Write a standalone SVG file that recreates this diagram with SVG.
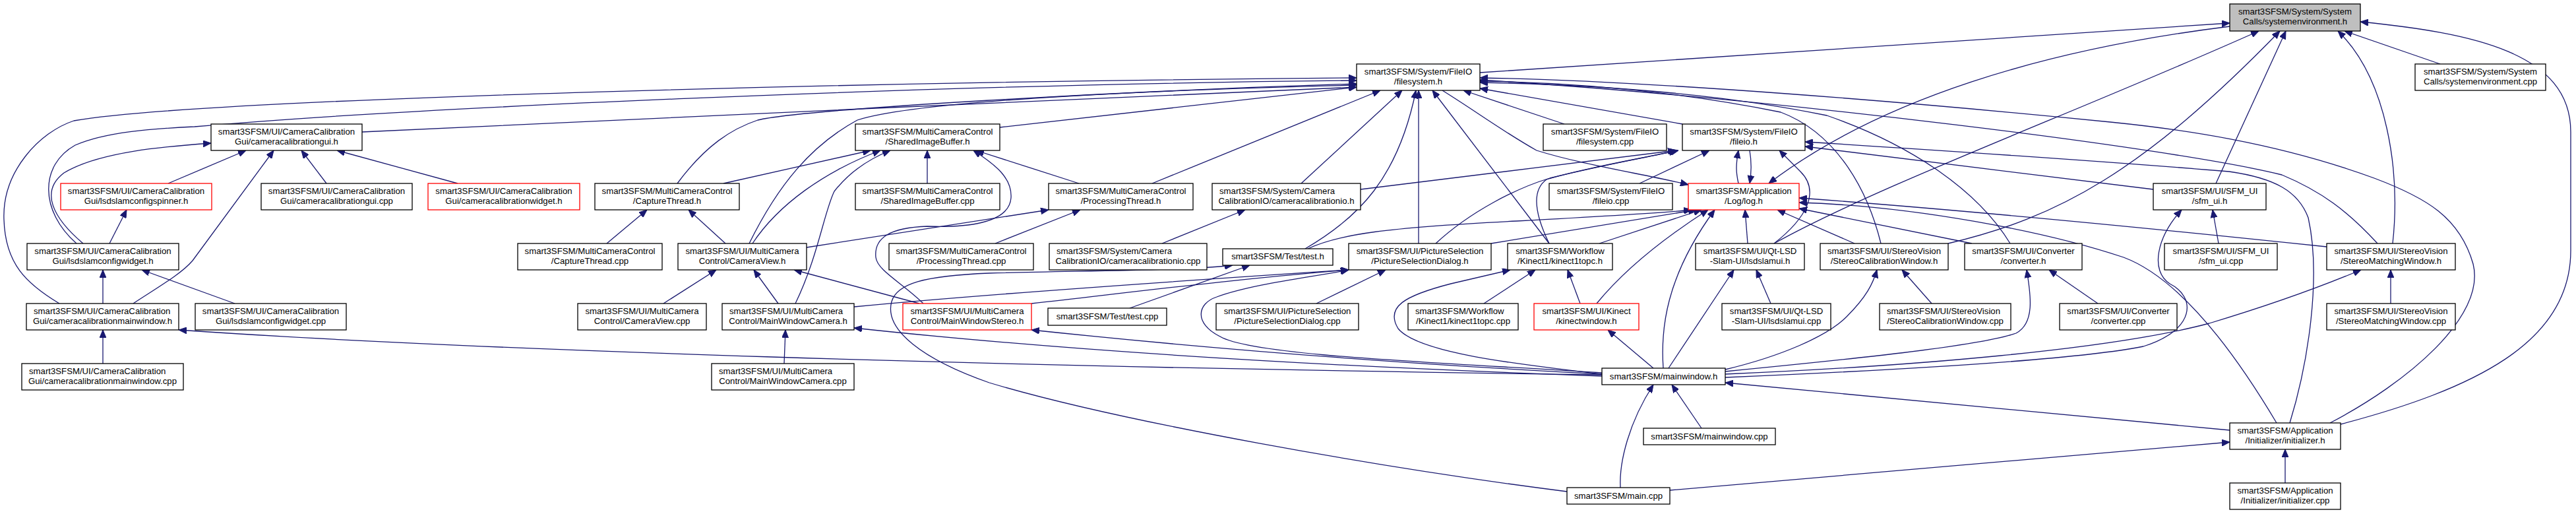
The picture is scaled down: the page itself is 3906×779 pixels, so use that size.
<svg xmlns="http://www.w3.org/2000/svg" width="3906" height="779" viewBox="0 0 3906 779">
<style>
.n rect{fill:#fff;stroke:#000;stroke-width:1.3}
.n.r rect{stroke:#ff0000}
.n.g rect{fill:#bfbfbf}
text{font-family:"Liberation Sans",Arial,sans-serif;font-size:13.2px;fill:#000}
.c{text-anchor:middle}
.l{text-anchor:start}
#edges path{fill:none;stroke:#191970;stroke-width:1.3;marker-end:url(#ah)}
</style>
<defs>
<marker id="ah" viewBox="0 0 12 10" refX="12" refY="5" markerWidth="12" markerHeight="10" markerUnits="userSpaceOnUse" orient="auto">
<path d="M0,0 L12,5 L0,10 z" fill="#191970" stroke="#191970" stroke-width="1"/>
</marker>
</defs>
<rect width="3906" height="779" fill="#fff"/>
<g id="edges">
<path d="M2244,110 C2700,80 3100,55 3381,35"/>
<path d="M3381,40 C3100,75 2850,150 2682,278"/>
<path d="M2690,369 C2850,280 3150,170 3425,47"/>
<path d="M2954,369 C3120,330 3250,260 3457,47"/>
<path d="M3360,278 L3466,47"/>
<path d="M3628,369 C3640,260 3620,120 3545,47"/>
<path d="M3700,97 L3555,47"/>
<path d="M3549,643 C3750,590 3898,520 3898,380 L3898,200 C3898,80 3750,50 3579,33"/>
<path d="M549,200 C1000,180 1600,150 2057,132"/>
<path d="M90,460 C40,430 8,400 6,333 C3,260 60,200 112,183 C300,150 1300,124 2057,118"/>
<path d="M116,369 C60,320 60,250 114,220 C160,200 230,195 295,192 C600,165 1400,128 2057,122"/>
<path d="M126,369 C80,330 60,290 97,262 C150,230 250,222 320,217"/>
<path d="M202,460 C240,435 275,415 292,395 L415,228"/>
<path d="M255,278 L373,228"/>
<path d="M495,278 L457,228"/>
<path d="M694,278 L511,228"/>
<path d="M166,369 L192,318"/>
<path d="M156,460 L156,409"/>
<path d="M356,460 L215,409"/>
<path d="M156,551 L156,500"/>
<path d="M2429,568 C1500,556 700,530 271,500"/>
<path d="M1097,278 L1320,228"/>
<path d="M1141,369 C1180,310 1250,260 1335,228"/>
<path d="M1206,460 C1240,390 1250,320 1265,290 C1290,258 1320,240 1350,228"/>
<path d="M1406,278 L1406,228"/>
<path d="M1636,278 L1480,228"/>
<path d="M1400,460 C1370,430 1330,410 1328,390 C1325,360 1350,345 1406,343 C1460,345 1530,340 1533,300 C1535,270 1510,250 1476,228"/>
<path d="M1027,278 C1070,220 1110,195 1149,182 C1220,165 1700,138 2057,127"/>
<path d="M1136,369 C1180,280 1230,220 1300,182 C1400,150 1800,135 2057,129"/>
<path d="M1516,193 L2057,132"/>
<path d="M1747,278 L2093,137"/>
<path d="M1973,278 L2126,137"/>
<path d="M1979,377 C2060,330 2120,270 2147,137"/>
<path d="M2151,369 L2151,137"/>
<path d="M2349,369 L2172,137"/>
<path d="M2372,188 L2219,137"/>
<path d="M2551,188 L2244,134"/>
<path d="M3533,641 C3650,580 3770,480 3750,400 C3730,330 3680,300 3600,270 C3450,215 3300,195 3200,185 C2900,155 2500,122 2244,118"/>
<path d="M3605,369 C3560,320 3520,290 3460,265 C3300,225 2700,150 2244,121"/>
<path d="M2852,369 C2830,280 2780,200 2700,170 C2550,140 2400,125 2244,123"/>
<path d="M3048,369 C3000,290 2900,220 2770,175 C2600,140 2400,128 2244,125"/>
<path d="M2187,137 C2240,170 2280,200 2330,228 C2400,250 2500,265 2560,280"/>
<path d="M2636,278 C2632,260 2632,250 2636,228"/>
<path d="M2653,228 C2656,245 2656,260 2653,278"/>
<path d="M2486,278 L2592,228"/>
<path d="M2063,287 L2541,228"/>
<path d="M2177,369 C2230,320 2300,285 2350,270 C2430,250 2500,238 2543,228"/>
<path d="M2349,369 C2330,330 2320,290 2345,272 C2400,255 2490,240 2545,228"/>
<path d="M2690,369 C2740,330 2760,290 2730,260 L2698,228"/>
<path d="M3472,641 C3500,550 3520,420 3500,330 C3485,290 3450,270 3380,260 C3200,245 2900,225 2737,215"/>
<path d="M3265,287 L2737,222"/>
<path d="M2650,369 L2646,318"/>
<path d="M2812,369 L2695,318"/>
<path d="M2990,369 L2728,316"/>
<path d="M3528,374 C3300,350 3000,320 2728,300"/>
<path d="M3452,641 C3380,520 3300,420 3220,390 C3100,350 2900,312 2728,307"/>
<path d="M1983,377 C2030,355 2100,345 2300,335 C2450,327 2520,323 2565,318"/>
<path d="M2261,369 L2572,318"/>
<path d="M2425,369 L2580,318"/>
<path d="M2421,460 C2470,400 2540,350 2590,318"/>
<path d="M2522,558 C2518,500 2525,420 2600,318"/>
<path d="M1100,369 L1044,318"/>
<path d="M920,369 L981,318"/>
<path d="M1223,375 L1590,318"/>
<path d="M1509,369 L1638,318"/>
<path d="M1762,369 L1888,318"/>
<path d="M1006,460 L1086,409"/>
<path d="M1180,460 L1143,409"/>
<path d="M1394,460 L1204,409"/>
<path d="M1189,551 L1191,500"/>
<path d="M2429,570 C2000,555 1600,530 1295,497"/>
<path d="M2429,567 C2100,550 1800,525 1564,500"/>
<path d="M1295,465 C1500,445 1800,425 2045,409"/>
<path d="M1564,460 C1700,445 1850,425 2045,409"/>
<path d="M2429,565 C2200,550 1900,540 1850,510 C1810,490 1815,460 1845,450 C1900,430 1990,420 2045,409"/>
<path d="M1713,467 L1895,402"/>
<path d="M2376,745 C2100,710 1700,640 1500,580 C1400,545 1340,500 1352,457 C1360,430 1400,418 1500,414 C1650,410 1800,410 1869,402"/>
<path d="M1996,460 L2101,409"/>
<path d="M2250,460 L2328,409"/>
<path d="M2396,460 L2377,409"/>
<path d="M2507,558 L2438,500"/>
<path d="M2429,567 C2300,552 2150,535 2120,498 C2100,465 2130,448 2200,430 L2290,409"/>
<path d="M2685,460 L2663,409"/>
<path d="M2530,558 L2629,409"/>
<path d="M2929,460 L2884,409"/>
<path d="M2616,560 C2700,540 2770,510 2800,480 C2830,450 2840,430 2846,409"/>
<path d="M3181,460 L3107,409"/>
<path d="M2616,563 C2800,545 3000,525 3057,505 C3085,490 3080,450 3073,409"/>
<path d="M3625,460 L3625,409"/>
<path d="M2616,567 C2900,555 3200,530 3350,490 C3450,460 3530,430 3580,409"/>
<path d="M3364,369 L3355,318"/>
<path d="M2616,572 C2900,560 3150,545 3250,525 C3330,500 3330,450 3290,430 C3260,410 3270,360 3308,318"/>
<path d="M2580,649 L2535,583"/>
<path d="M2457,739 C2455,700 2470,640 2507,583"/>
<path d="M3381,652 L2616,580"/>
<path d="M2532,743 L3381,670"/>
<path d="M3465,732 L3465,681"/>
</g>
<g id="n1" class="n g"><rect x="3381" y="6" width="198" height="41"/><text class="c" x="3480" y="22">smart3SFSM/System/System</text><text class="c" x="3480" y="37">Calls/systemenvironment.h</text></g>
<g id="n2" class="n"><rect x="2057" y="97" width="187" height="40"/><text class="c" x="2150.5" y="113">smart3SFSM/System/FileIO</text><text class="c" x="2150.5" y="128">/filesystem.h</text></g>
<g id="n3" class="n"><rect x="3662" y="97" width="198" height="40"/><text class="c" x="3761" y="113">smart3SFSM/System/System</text><text class="c" x="3761" y="128">Calls/systemenvironment.cpp</text></g>
<g id="n4" class="n"><rect x="320" y="188" width="229" height="40"/><text class="c" x="434.5" y="204">smart3SFSM/UI/CameraCalibration</text><text class="c" x="434.5" y="219">Gui/cameracalibrationgui.h</text></g>
<g id="n5" class="n"><rect x="1297" y="188" width="219" height="40"/><text class="c" x="1406.5" y="204">smart3SFSM/MultiCameraControl</text><text class="c" x="1406.5" y="219">/SharedImageBuffer.h</text></g>
<g id="n6" class="n"><rect x="2340" y="188" width="187" height="40"/><text class="c" x="2433.5" y="204">smart3SFSM/System/FileIO</text><text class="c" x="2433.5" y="219">/filesystem.cpp</text></g>
<g id="n7" class="n"><rect x="2551" y="188" width="186" height="40"/><text class="c" x="2644" y="204">smart3SFSM/System/FileIO</text><text class="c" x="2644" y="219">/fileio.h</text></g>
<g id="n8" class="n r"><rect x="92" y="278" width="229" height="40"/><text class="c" x="206.5" y="294">smart3SFSM/UI/CameraCalibration</text><text class="c" x="206.5" y="309">Gui/lsdslamconfigspinner.h</text></g>
<g id="n9" class="n"><rect x="396" y="278" width="229" height="40"/><text class="c" x="510.5" y="294">smart3SFSM/UI/CameraCalibration</text><text class="c" x="510.5" y="309">Gui/cameracalibrationgui.cpp</text></g>
<g id="n10" class="n r"><rect x="649" y="278" width="230" height="40"/><text class="c" x="764" y="294">smart3SFSM/UI/CameraCalibration</text><text class="c" x="764" y="309">Gui/cameracalibrationwidget.h</text></g>
<g id="n11" class="n"><rect x="902" y="278" width="219" height="40"/><text class="c" x="1011.5" y="294">smart3SFSM/MultiCameraControl</text><text class="c" x="1011.5" y="309">/CaptureThread.h</text></g>
<g id="n12" class="n"><rect x="1297" y="278" width="219" height="40"/><text class="c" x="1406.5" y="294">smart3SFSM/MultiCameraControl</text><text class="c" x="1406.5" y="309">/SharedImageBuffer.cpp</text></g>
<g id="n13" class="n"><rect x="1590" y="278" width="219" height="40"/><text class="c" x="1699.5" y="294">smart3SFSM/MultiCameraControl</text><text class="c" x="1699.5" y="309">/ProcessingThread.h</text></g>
<g id="n14" class="n"><rect x="1838" y="278" width="225" height="40"/><text class="l" x="1849" y="294">smart3SFSM/System/Camera</text><text class="c" x="1950.5" y="309">CalibrationIO/cameracalibrationio.h</text></g>
<g id="n15" class="n"><rect x="2349" y="278" width="187" height="40"/><text class="c" x="2442.5" y="294">smart3SFSM/System/FileIO</text><text class="c" x="2442.5" y="309">/fileio.cpp</text></g>
<g id="n16" class="n r"><rect x="2560" y="278" width="168" height="40"/><text class="c" x="2644" y="294">smart3SFSM/Application</text><text class="c" x="2644" y="309">/Log/log.h</text></g>
<g id="n17" class="n"><rect x="3265" y="278" width="171" height="40"/><text class="c" x="3350.5" y="294">smart3SFSM/UI/SFM_UI</text><text class="c" x="3350.5" y="309">/sfm_ui.h</text></g>
<g id="n18" class="n"><rect x="41" y="369" width="230" height="40"/><text class="c" x="156" y="385">smart3SFSM/UI/CameraCalibration</text><text class="c" x="156" y="400">Gui/lsdslamconfigwidget.h</text></g>
<g id="n19" class="n"><rect x="785" y="369" width="219" height="40"/><text class="c" x="894.5" y="385">smart3SFSM/MultiCameraControl</text><text class="c" x="894.5" y="400">/CaptureThread.cpp</text></g>
<g id="n20" class="n"><rect x="1028" y="369" width="195" height="40"/><text class="c" x="1125.5" y="385">smart3SFSM/UI/MultiCamera</text><text class="c" x="1125.5" y="400">Control/CameraView.h</text></g>
<g id="n21" class="n"><rect x="1348" y="369" width="219" height="40"/><text class="c" x="1457.5" y="385">smart3SFSM/MultiCameraControl</text><text class="c" x="1457.5" y="400">/ProcessingThread.cpp</text></g>
<g id="n22" class="n"><rect x="1591" y="369" width="239" height="40"/><text class="l" x="1602" y="385">smart3SFSM/System/Camera</text><text class="c" x="1710.5" y="400">CalibrationIO/cameracalibrationio.cpp</text></g>
<g id="n23" class="n"><rect x="1854" y="377" width="167" height="25"/><text class="c" x="1937.5" y="393">smart3SFSM/Test/test.h</text></g>
<g id="n24" class="n"><rect x="2045" y="369" width="216" height="40"/><text class="c" x="2153" y="385">smart3SFSM/UI/PictureSelection</text><text class="c" x="2153" y="400">/PictureSelectionDialog.h</text></g>
<g id="n25" class="n"><rect x="2286" y="369" width="159" height="40"/><text class="c" x="2365.5" y="385">smart3SFSM/Workflow</text><text class="c" x="2365.5" y="400">/Kinect1/kinect1topc.h</text></g>
<g id="n26" class="n"><rect x="2571" y="369" width="165" height="40"/><text class="c" x="2653.5" y="385">smart3SFSM/UI/Qt-LSD</text><text class="c" x="2653.5" y="400">-Slam-UI/lsdslamui.h</text></g>
<g id="n27" class="n"><rect x="2760" y="369" width="194" height="40"/><text class="c" x="2857" y="385">smart3SFSM/UI/StereoVision</text><text class="c" x="2857" y="400">/StereoCalibrationWindow.h</text></g>
<g id="n28" class="n"><rect x="2979" y="369" width="178" height="40"/><text class="c" x="3068" y="385">smart3SFSM/UI/Converter</text><text class="c" x="3068" y="400">/converter.h</text></g>
<g id="n29" class="n"><rect x="3282" y="369" width="171" height="40"/><text class="c" x="3367.5" y="385">smart3SFSM/UI/SFM_UI</text><text class="c" x="3367.5" y="400">/sfm_ui.cpp</text></g>
<g id="n30" class="n"><rect x="3528" y="369" width="195" height="40"/><text class="c" x="3625.5" y="385">smart3SFSM/UI/StereoVision</text><text class="c" x="3625.5" y="400">/StereoMatchingWindow.h</text></g>
<g id="n31" class="n"><rect x="40" y="460" width="231" height="40"/><text class="l" x="51" y="476">smart3SFSM/UI/CameraCalibration</text><text class="c" x="155.5" y="491">Gui/cameracalibrationmainwindow.h</text></g>
<g id="n32" class="n"><rect x="296" y="460" width="229" height="40"/><text class="c" x="410.5" y="476">smart3SFSM/UI/CameraCalibration</text><text class="c" x="410.5" y="491">Gui/lsdslamconfigwidget.cpp</text></g>
<g id="n33" class="n"><rect x="876" y="460" width="195" height="40"/><text class="c" x="973.5" y="476">smart3SFSM/UI/MultiCamera</text><text class="c" x="973.5" y="491">Control/CameraView.cpp</text></g>
<g id="n34" class="n"><rect x="1095" y="460" width="200" height="40"/><text class="l" x="1106" y="476">smart3SFSM/UI/MultiCamera</text><text class="c" x="1195" y="491">Control/MainWindowCamera.h</text></g>
<g id="n35" class="n r"><rect x="1369" y="460" width="195" height="40"/><text class="c" x="1466.5" y="476">smart3SFSM/UI/MultiCamera</text><text class="c" x="1466.5" y="491">Control/MainWindowStereo.h</text></g>
<g id="n36" class="n"><rect x="1589" y="467" width="180" height="26"/><text class="c" x="1679" y="484">smart3SFSM/Test/test.cpp</text></g>
<g id="n37" class="n"><rect x="1844" y="460" width="216" height="40"/><text class="c" x="1952" y="476">smart3SFSM/UI/PictureSelection</text><text class="c" x="1952" y="491">/PictureSelectionDialog.cpp</text></g>
<g id="n38" class="n"><rect x="2135" y="460" width="167" height="40"/><text class="l" x="2146" y="476">smart3SFSM/Workflow</text><text class="c" x="2218.5" y="491">/Kinect1/kinect1topc.cpp</text></g>
<g id="n39" class="n r"><rect x="2326" y="460" width="159" height="40"/><text class="c" x="2405.5" y="476">smart3SFSM/UI/Kinect</text><text class="c" x="2405.5" y="491">/kinectwindow.h</text></g>
<g id="n40" class="n"><rect x="2611" y="460" width="165" height="40"/><text class="c" x="2693.5" y="476">smart3SFSM/UI/Qt-LSD</text><text class="c" x="2693.5" y="491">-Slam-UI/lsdslamui.cpp</text></g>
<g id="n41" class="n"><rect x="2850" y="460" width="199" height="40"/><text class="l" x="2861" y="476">smart3SFSM/UI/StereoVision</text><text class="c" x="2949.5" y="491">/StereoCalibrationWindow.cpp</text></g>
<g id="n42" class="n"><rect x="3123" y="460" width="178" height="40"/><text class="c" x="3212" y="476">smart3SFSM/UI/Converter</text><text class="c" x="3212" y="491">/converter.cpp</text></g>
<g id="n43" class="n"><rect x="3528" y="460" width="195" height="40"/><text class="c" x="3625.5" y="476">smart3SFSM/UI/StereoVision</text><text class="c" x="3625.5" y="491">/StereoMatchingWindow.cpp</text></g>
<g id="n44" class="n"><rect x="2429" y="558" width="187" height="25"/><text class="c" x="2522.5" y="575">smart3SFSM/mainwindow.h</text></g>
<g id="n45" class="n"><rect x="2492" y="649" width="200" height="25"/><text class="c" x="2592" y="666">smart3SFSM/mainwindow.cpp</text></g>
<g id="n46" class="n"><rect x="3381" y="641" width="168" height="40"/><text class="c" x="3465" y="657">smart3SFSM/Application</text><text class="c" x="3465" y="672">/Initializer/initializer.h</text></g>
<g id="n47" class="n"><rect x="2376" y="739" width="156" height="25"/><text class="c" x="2454" y="756">smart3SFSM/main.cpp</text></g>
<g id="n48" class="n"><rect x="3381" y="732" width="168" height="40"/><text class="c" x="3465" y="748">smart3SFSM/Application</text><text class="c" x="3465" y="763">/Initializer/initializer.cpp</text></g>
<g id="n49" class="n"><rect x="33" y="551" width="245" height="40"/><text class="l" x="44" y="567">smart3SFSM/UI/CameraCalibration</text><text class="c" x="155.5" y="582">Gui/cameracalibrationmainwindow.cpp</text></g>
<g id="n50" class="n"><rect x="1079" y="551" width="216" height="40"/><text class="l" x="1090" y="567">smart3SFSM/UI/MultiCamera</text><text class="c" x="1187" y="582">Control/MainWindowCamera.cpp</text></g>
</svg>
